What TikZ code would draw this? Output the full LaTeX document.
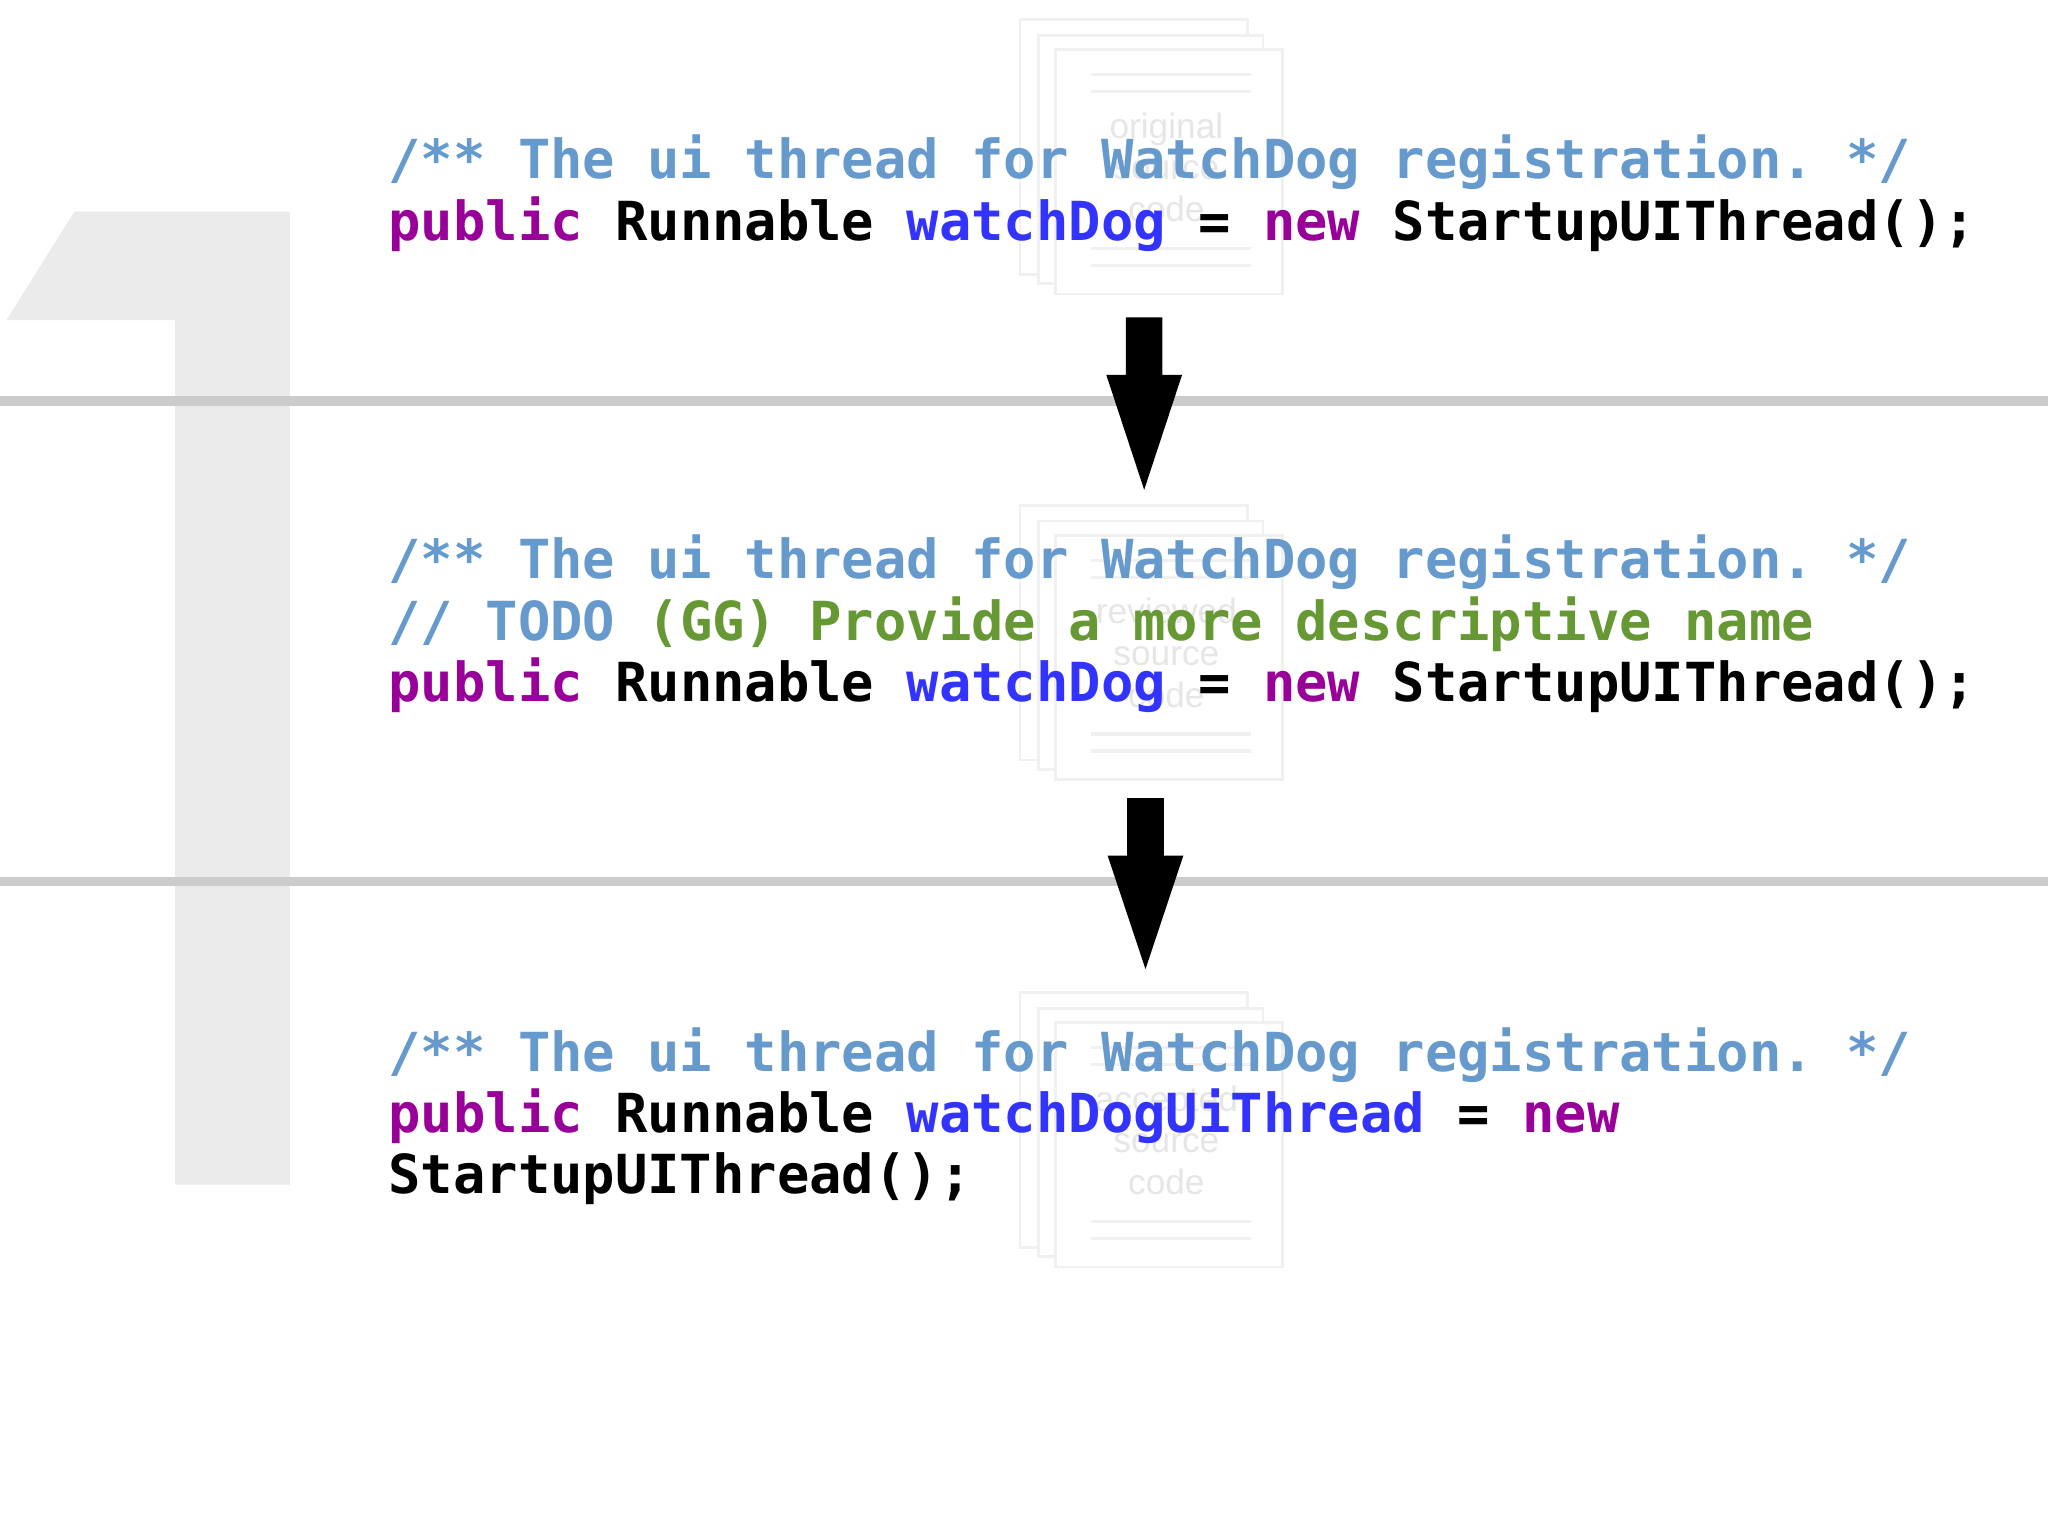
\documentclass[tikz,border=0pt]{standalone}
\usepackage{fontspec}
\setmonofont{DejaVu Sans Mono}
\setsansfont{Liberation Sans}
\definecolor{cmt}{HTML}{6699CC}
\definecolor{kw}{HTML}{990099}
\definecolor{idf}{HTML}{3333FF}
\definecolor{grn}{HTML}{669933}
\definecolor{big}{HTML}{EBEBEB}
\definecolor{faint}{HTML}{F0F0F0}
\definecolor{ftxt}{HTML}{E6E6E6}
\begin{document}
\begin{tikzpicture}[x=0.5pt,y=-0.5pt,
  code/.style={anchor=base west,inner sep=0pt,font=\ttfamily\bfseries\fontsize{20.6}{24}\selectfont},
  doc/.style={draw=faint,fill=white,line width=1pt},
  dl/.style={draw=faint,line width=1.2pt},
  dtxt/.style={text=ftxt,font=\sffamily\fontsize{13.5}{16}\selectfont,align=center,inner sep=0pt},
  sep/.style={draw=black!20,line width=3.5pt},
  blk/.style={fill=black}]
\useasboundingbox (0,0) rectangle (1568,1175);
\fill[white] (0,0) rectangle (1568,1175);
% big 1
\fill[big] (5,245) -- (57,162) -- (222,162) -- (222,907) -- (134,907) -- (134,245) -- cycle;
% document stacks
\foreach \dy/\t in {0/{original\\source\\code}, 372/{reviewed\\source\\code}, 745/{accepted\\source\\code}}{
  \draw[doc] (781,15+\dy) rectangle (955,210+\dy);
  \draw[doc] (795,27+\dy) rectangle (967,217+\dy);
  \draw[doc] (808,38+\dy) rectangle (982,225+\dy);
  \draw[dl] (835,57+\dy) -- (958,57+\dy);
  \draw[dl] (835,70+\dy) -- (958,70+\dy);
  \draw[dl] (835,190+\dy) -- (958,190+\dy);
  \draw[dl] (835,203+\dy) -- (958,203+\dy);
  \node[dtxt] at (893,128+\dy) {\t};
}
% separators
\draw[sep] (0,307) -- (1568,307);
\draw[sep] (0,675) -- (1568,675);
% arrows
\fill[blk] (862,243) -- (890,243) -- (890,287) -- (905,287) -- (876,375) -- (847,287) -- (862,287) -- cycle;
\fill[blk] (863,611) -- (891,611) -- (891,655) -- (906,655) -- (877,742) -- (848,655) -- (863,655) -- cycle;
% code
\node[code] (a1) at (297,137) {\textcolor{cmt}{/** The ui thread for WatchDog registration. */}};
\node[code] (a2) at (297,184) {\textcolor{kw}{public} Runnable \textcolor{idf}{watchDog} = \textcolor{kw}{new} StartupUIThread();};
\node[code] (b1) at (297,443) {\textcolor{cmt}{/** The ui thread for WatchDog registration. */}};
\node[code] (b2) at (297,490) {\textcolor{cmt}{// TODO} \textcolor{grn}{(GG) Provide a more descriptive name}};
\node[code] (b3) at (297,537) {\textcolor{kw}{public} Runnable \textcolor{idf}{watchDog} = \textcolor{kw}{new} StartupUIThread();};
\node[code] (c1) at (297,820) {\textcolor{cmt}{/** The ui thread for WatchDog registration. */}};
\node[code] (c2) at (297,867) {\textcolor{kw}{public} Runnable \textcolor{idf}{watchDogUiThread} = \textcolor{kw}{new}};
\node[code] (c3) at (297,914) {StartupUIThread();};
\end{tikzpicture}
\end{document}
